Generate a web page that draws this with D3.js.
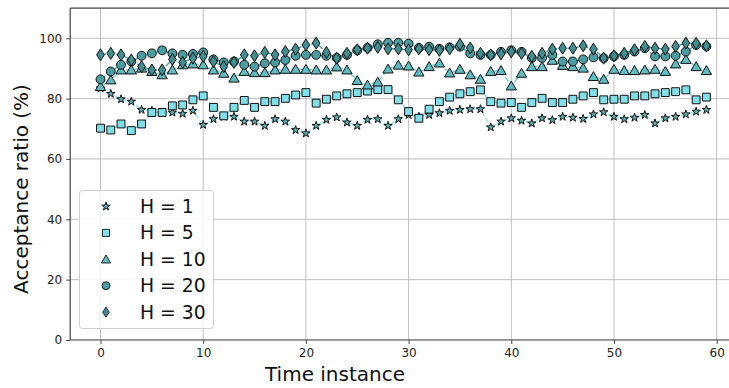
<!DOCTYPE html>
<html><head><meta charset="utf-8">
<script src="https://cdn.jsdelivr.net/npm/d3@7"></script>
<style>body{margin:0;background:#fff}svg{display:block;font-family:"DejaVu Sans",sans-serif}</style>
</head><body><svg id="c" width="729" height="388"></svg>
<script>
const times = d3.range(0, 60);
const xTicks = [0, 10, 20, 30, 40, 50, 60];
const yTicks = [0, 20, 40, 60, 80, 100];
const seriesNames = ["H = 1", "H = 5", "H = 10", "H = 20", "H = 30"];
const h1 = [83.4,81.6,79.8,79,76.3,76,75.2,75.4,75,76,71.3,73.2,74,74,72.4,72.4,71,73.2,72.4,69.6,68.5,71,73,73.8,72.1,71,73,73.2,71,73.2,74.6,74,74.6,75.2,76,76.3,76.5,76.5,70.5,72.4,73.5,72.7,71.8,73.5,72.9,74,73.7,73.3,74.8,75.5,74,73.2,73.7,74.6,71.8,73.5,74,74.8,75.7,76.3];
const h5 = [70.2,69.6,71.6,69.4,71.6,75.4,75.4,77.6,77.9,79.6,80.9,77.1,74.3,77.1,79.4,77.1,79,79,80.1,81.2,82,78.5,79.8,80.9,81.6,82,82.5,83,83,79.6,75.7,73.5,76.5,79,80.5,81.6,82.3,82.9,79,78.5,78.7,77.1,78.7,80.1,78.7,78.7,79.8,80.9,82,79.6,79.8,79.8,80.9,80.9,81.6,82,82.3,82.9,79.6,80.5];
const h10 = [84,86.2,89.5,89.5,90.1,89,87.9,89.5,91.2,91.5,91.2,89.5,88.4,86.8,89,88.6,88.6,89.5,89.7,89.7,89.7,89.5,89.5,90.5,89.5,86,84.5,85.5,89.8,91.1,90.8,88.8,90.6,91.8,88.5,89.7,87.9,86.4,89,89.3,84.2,88.4,90.6,90.6,92.7,91,90.6,90.1,87.3,86.4,89.7,89.3,89.3,89.5,89.7,89,91.5,93,90.6,89.3];
const h20 = [86.4,89,91.2,92.3,94.2,95,96,95,94.5,94.8,95.3,93,92,92.3,91.2,90.6,91.7,92,92.8,94.2,94.5,94.5,94.2,93.5,94.5,96,96.8,98,98.5,98.5,98.2,96.8,97.2,96.5,97,97.2,95,94.5,94.5,95.5,96,95.5,93.5,93.5,94.5,92.3,92.3,93,93.7,93.4,94,94.5,95.6,96.7,94,94,94.2,95.6,97.8,97.3];
const h30 = [94.5,95,94.5,92.8,90.6,89.5,89.5,93,92,93.4,94,92.3,90.6,92,94.5,94.2,95.3,94.5,95.6,96.4,97.8,98.4,95.3,93.4,95,96.2,96.7,97,96.5,96.5,96.2,96.5,96.2,96,96.5,98,96.8,95,94.5,94.8,95.5,95,94,95,96.4,96.7,96.7,97.5,96.4,93.4,94.2,95,96.2,97.3,96.7,96.4,97.3,98.4,98.3,97.5];

const seriesData = [h1, h5, h10, h20, h30];
const fills = ["#5fb0b5", "#80dfe8", "#5fbcc2", "#4c9da1", "#418f93"];
const lines = ["#9be9f0", "#8fe3eb", "#7ccfd6", "#5aa8ac", "#4f9ea2"];
const W = 729, H = 388;
const svg = d3.select("#c");
const x = d3.scaleLinear().domain([-2.95, 61.95]).range([70.2, 736.7]);
const y = d3.scaleLinear().domain([0, 110]).range([340, 8.1]);

svg.append("defs").append("clipPath").attr("id","clip").append("rect")
  .attr("x",70.2).attr("y",8.1).attr("width",W-70.2).attr("height",340-8.1);

const grid = svg.append("g").attr("clip-path","url(#clip)");
grid.selectAll(".gx").data(xTicks).join("line")
  .attr("x1",d=>x(d)).attr("x2",d=>x(d)).attr("y1",8.1).attr("y2",340)
  .attr("stroke","#b0b0b0").attr("stroke-width",0.8);
grid.selectAll(".gy").data(yTicks).join("line")
  .attr("x1",70.2).attr("x2",W).attr("y1",d=>y(d)).attr("y2",d=>y(d))
  .attr("stroke","#b0b0b0").attr("stroke-width",0.8);

function thinDiamond(){ return "M0,-6L3.8,0L0,6L-3.8,0Z"; }
const symbolPaths = [
  d3.symbol().type(d3.symbolStar).size(22)(),
  d3.symbol().type(d3.symbolSquare).size(62)(),
  d3.symbol().type(d3.symbolTriangle).size(46)(),
  d3.symbol().type(d3.symbolCircle).size(62)(),
  thinDiamond()
];
const triOffset = [0,0,1,0,0];

const plot = svg.append("g").attr("clip-path","url(#clip)");
seriesData.forEach((vals, k) => {
  const pts = vals.map((v,i)=>[times[i], v]);
  plot.append("path").datum(pts)
    .attr("d", d3.line().x(d=>x(d[0])).y(d=>y(d[1])))
    .attr("fill","none").attr("stroke",lines[k]).attr("stroke-width",1.5)
    .attr("stroke-dasharray","5.5,2.4");
});
seriesData.forEach((vals, k) => {
  const pts = vals.map((v,i)=>[times[i], v]);
  plot.append("g").selectAll("path").data(pts).join("path")
    .attr("d", symbolPaths[k])
    .attr("transform", d=>`translate(${x(d[0])},${y(d[1])+triOffset[k]})`)
    .attr("fill", fills[k]).attr("stroke","#111").attr("stroke-width",1);
});

const ax = svg.append("g").attr("transform","translate(0,340)")
  .call(d3.axisBottom(x).tickValues(xTicks).tickSize(4).tickPadding(4).tickFormat(d3.format("d")));
const ay = svg.append("g").attr("transform","translate(70.2,0)")
  .call(d3.axisLeft(y).tickValues(yTicks).tickSize(4).tickPadding(4).tickFormat(d3.format("d")));
[ax, ay].forEach(a=>{
  a.select(".domain").remove();
  a.selectAll("line").attr("stroke","#333").attr("stroke-width",0.9);
  a.selectAll("text").attr("fill","#222").style("font-size","12px").style("font-family","DejaVu Sans");
});
svg.append("line").attr("x1",70.2).attr("x2",W).attr("y1",340).attr("y2",340).attr("stroke","#444").attr("stroke-width",1.2);
svg.append("line").attr("x1",70.2).attr("x2",70.2).attr("y1",8.1).attr("y2",340).attr("stroke","#444").attr("stroke-width",1.2);
svg.append("line").attr("x1",70.2).attr("x2",W).attr("y1",8.1).attr("y2",8.1).attr("stroke","#444").attr("stroke-width",1.2);

svg.append("text").attr("x",335).attr("y",381).attr("text-anchor","middle")
  .style("font-size","20px").attr("fill","#111").text("Time instance");
svg.append("text").attr("transform","translate(28,189) rotate(-90)").attr("text-anchor","middle")
  .style("font-size","20px").attr("fill","#111").text("Acceptance ratio (%)");

const lg = svg.append("g");
lg.append("rect").attr("x",79.5).attr("y",190.5).attr("width",134).attr("height",138).attr("rx",3)
  .attr("fill","#fff").attr("fill-opacity",0.85).attr("stroke","#d0d0d0").attr("stroke-width",1);
seriesNames.forEach((name,k)=>{
  const cy = 206.5 + k*26.4;
  lg.append("path").attr("d", symbolPaths[k]).attr("transform",`translate(106,${cy+triOffset[k]}) scale(${k===4?0.85:(k===0?1:0.9)})`)
    .attr("fill",fills[k]).attr("stroke","#111").attr("stroke-width",1);
  lg.append("text").attr("x",140).attr("y",cy+6.5).style("font-size","18.8px").attr("fill","#111").text(name);
});
</script></body></html>
